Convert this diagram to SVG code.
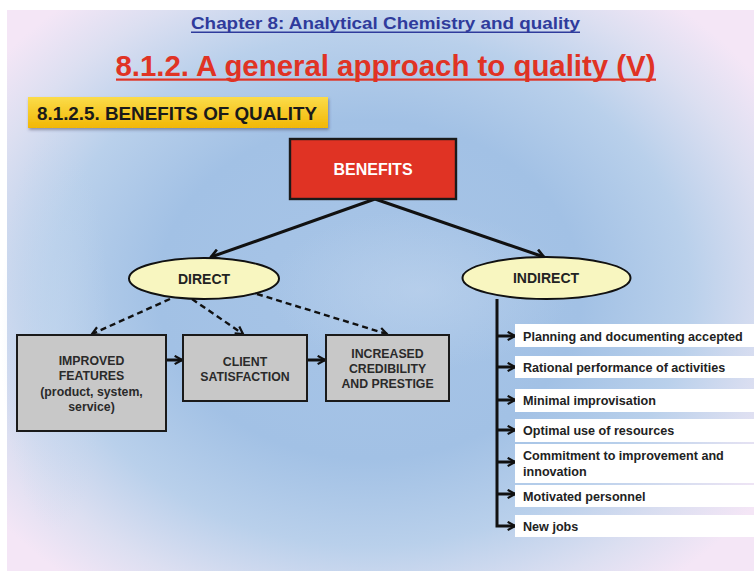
<svg xmlns="http://www.w3.org/2000/svg" width="754" height="571" viewBox="0 0 754 571">
<defs>
<radialGradient id="bg" gradientUnits="userSpaceOnUse" cx="370" cy="290" r="470" gradientTransform="translate(370 290) scale(1 0.8) translate(-370 -290)">
<stop offset="0" stop-color="#a8c5e7"/>
<stop offset="0.45" stop-color="#a2c1e5"/>
<stop offset="0.68" stop-color="#b9d0eb"/>
<stop offset="0.86" stop-color="#dcdff1"/>
<stop offset="1" stop-color="#f4e6f6"/>
</radialGradient>
<radialGradient id="hl" cx="0.5" cy="0.5" r="0.5">
<stop offset="0" stop-color="#c2d6ee" stop-opacity="0.55"/>
<stop offset="1" stop-color="#c2d6ee" stop-opacity="0"/>
</radialGradient>
<linearGradient id="ban" x1="0" y1="0" x2="0" y2="1">
<stop offset="0" stop-color="#fbdc4a"/>
<stop offset="1" stop-color="#f2b705"/>
</linearGradient>
<marker id="ah" markerUnits="userSpaceOnUse" viewBox="0 0 12 12" refX="10" refY="6" markerWidth="12" markerHeight="12" orient="auto">
<path d="M2,1 L10,6 L2,11" fill="none" stroke="#111" stroke-width="2.6"/>
</marker>
<marker id="ahs" markerUnits="userSpaceOnUse" viewBox="0 0 12 12" refX="10" refY="6" markerWidth="11" markerHeight="11" orient="auto">
<path d="M2,1.5 L10,6 L2,10.5" fill="none" stroke="#111" stroke-width="2.4"/>
</marker>
<filter id="sh" x="-5%" y="-20%" width="110%" height="150%">
<feDropShadow dx="1" dy="2" stdDeviation="1.5" flood-color="#446" flood-opacity="0.5"/>
</filter>
</defs>
<style>
.b{font-family:"Liberation Sans",Arial,sans-serif;font-weight:bold}
.n{font-family:"Liberation Sans Narrow","Liberation Sans",Arial,sans-serif;font-weight:bold}
.bx{fill:#c8c8c8;stroke:#1a1a1a;stroke-width:2}
.bt{font-size:12.3px;fill:#2a2a2a;text-anchor:middle}
.el{fill:#f8f6c0;stroke:#111;stroke-width:2}
.li{fill:#ffffff}
.lt{font-size:12.6px;fill:#222}
.sl{stroke:#111;stroke-width:3;fill:none}
.dl{stroke:#111;stroke-width:2.4;fill:none;stroke-dasharray:6 4}
</style>
<rect width="754" height="571" fill="#ffffff"/>
<rect x="7" y="10" width="747" height="561" fill="url(#bg)"/>
<ellipse cx="420" cy="290" rx="150" ry="80" fill="url(#hl)"/>
<ellipse cx="55" cy="330" rx="55" ry="200" fill="url(#hl)"/>

<g id="header">
<text class="n" x="385.5" y="29" font-size="16" fill="#2f3b9c" text-anchor="middle" textLength="389" lengthAdjust="spacingAndGlyphs">Chapter 8: Analytical Chemistry and quality</text>
<rect x="191" y="31.5" width="389" height="1.5" fill="#2f3b9c"/>
<text class="n" x="385.5" y="76" font-size="29" fill="#e03324" text-anchor="middle" textLength="540" lengthAdjust="spacingAndGlyphs">8.1.2. A general approach to quality (V)</text>
<rect x="116" y="78.5" width="540" height="2.2" fill="#e03324"/>
</g>

<g id="banner">
<rect x="28" y="97" width="300" height="31" fill="url(#ban)" filter="url(#sh)"/>
<text class="n" x="37" y="120" font-size="18" fill="#1a1a1a" textLength="280" lengthAdjust="spacingAndGlyphs">8.1.2.5. BENEFITS OF QUALITY</text>
</g>

<g id="connectors">
<path class="sl" d="M375,199 L211,257" marker-end="url(#ah)"/>
<path class="sl" d="M375,199 L544,257" marker-end="url(#ah)"/>
<path class="dl" d="M170,299 L92,334" marker-end="url(#ahs)"/>
<path class="dl" d="M192,299 L243,334" marker-end="url(#ahs)"/>
<path class="dl" d="M257,294 L387,334" marker-end="url(#ahs)"/>
<path class="sl" d="M166,360 L182,360" marker-end="url(#ahs)"/>
<path class="sl" d="M307,360 L325,360" marker-end="url(#ahs)"/>
<path class="sl" d="M497,299 L497,526 L515,526" marker-end="url(#ahs)"/>
<path class="sl" d="M497,336 L515,336" marker-end="url(#ahs)"/>
<path class="sl" d="M497,367 L515,367" marker-end="url(#ahs)"/>
<path class="sl" d="M497,400 L515,400" marker-end="url(#ahs)"/>
<path class="sl" d="M497,430 L515,430" marker-end="url(#ahs)"/>
<path class="sl" d="M497,462 L515,462" marker-end="url(#ahs)"/>
<path class="sl" d="M497,494 L515,494" marker-end="url(#ahs)"/>
</g>

<g id="benefits">
<rect x="290" y="139" width="166" height="60" fill="#e03324" stroke="#1a1a1a" stroke-width="2.4"/>
<text class="b" x="373" y="175" font-size="16" fill="#ffffff" text-anchor="middle">BENEFITS</text>
</g>

<g id="direct">
<ellipse class="el" cx="204" cy="278.5" rx="75" ry="20.5"/>
<text class="b" x="204" y="284" font-size="14" fill="#222" text-anchor="middle">DIRECT</text>
</g>

<g id="indirect">
<ellipse class="el" cx="546.5" cy="278" rx="84" ry="21"/>
<text class="b" x="546" y="283" font-size="14" fill="#222" text-anchor="middle">INDIRECT</text>
</g>

<g id="improved">
<rect class="bx" x="17" y="335" width="149" height="96"/>
<text class="b bt" x="91.5" y="365">IMPROVED</text>
<text class="b bt" x="91.5" y="380">FEATURES</text>
<text class="b bt" x="91.5" y="396">(product, system,</text>
<text class="b bt" x="91.5" y="411">service)</text>
</g>

<g id="client">
<rect class="bx" x="183" y="335" width="124" height="66"/>
<text class="b bt" x="245" y="366">CLIENT</text>
<text class="b bt" x="245" y="381">SATISFACTION</text>
</g>

<g id="increased">
<rect class="bx" x="326" y="335" width="123" height="66"/>
<text class="b bt" x="387.5" y="358">INCREASED</text>
<text class="b bt" x="387.5" y="373">CREDIBILITY</text>
<text class="b bt" x="387.5" y="388">AND PRESTIGE</text>
</g>

<g id="i1"><rect class="li" x="515" y="324" width="239" height="23"/><text class="b lt" x="523" y="340.5">Planning and documenting accepted</text></g>
<g id="i2"><rect class="li" x="515" y="356" width="239" height="22"/><text class="b lt" x="523" y="372">Rational performance of activities</text></g>
<g id="i3"><rect class="li" x="515" y="389" width="239" height="23"/><text class="b lt" x="523" y="405">Minimal improvisation</text></g>
<g id="i4"><rect class="li" x="515" y="419" width="239" height="23"/><text class="b lt" x="523" y="435">Optimal use of resources</text></g>
<g id="i5"><rect class="li" x="515" y="444" width="239" height="39"/><text class="b lt" x="523" y="460">Commitment to improvement and</text><text class="b lt" x="523" y="476">innovation</text></g>
<g id="i6"><rect class="li" x="515" y="485" width="239" height="22"/><text class="b lt" x="523" y="501">Motivated personnel</text></g>
<g id="i7"><rect class="li" x="515" y="515" width="239" height="22"/><text class="b lt" x="523" y="531">New jobs</text></g>
</svg>
